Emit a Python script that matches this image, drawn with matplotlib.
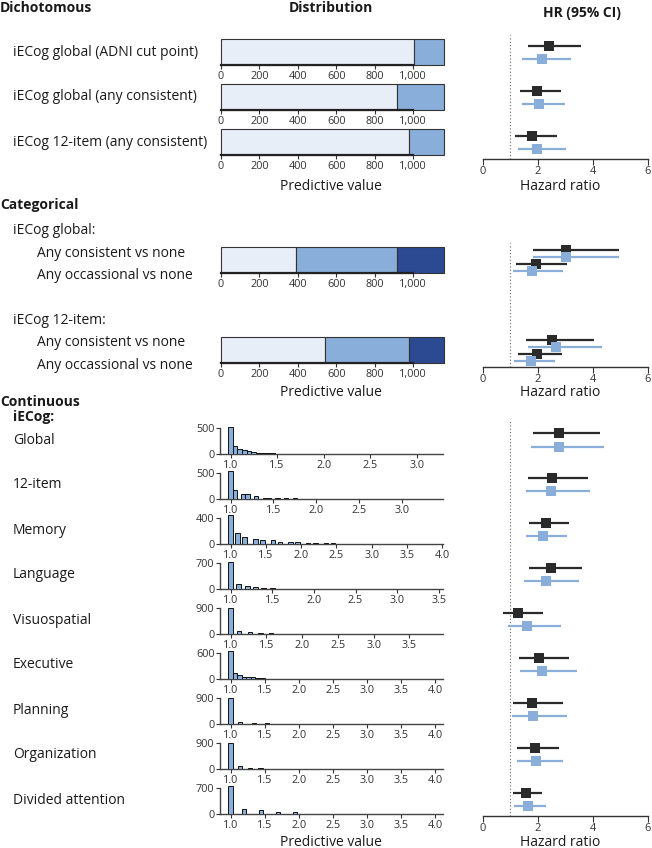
import numpy as np
import matplotlib
matplotlib.use("Agg")
import matplotlib.pyplot as plt

W, H = 652, 848
plt.rcParams['font.family'] = ['Open Sans', 'DejaVu Sans']

LIGHT = '#e8eef8'
MID = '#88aed9'
DARK = '#2c4a92'
BLACK = '#2a2a2a'
EDGE = '#333333'

# ---- data ----
# dichotomous: counts below / above cut point
dich_labels = ["iECog global (ADNI cut point)", "iECog global (any consistent)",
               "iECog 12-item (any consistent)"]
dich_no = [1005, 917, 979]
dich_yes = [155, 243, 181]

# categorical: none / any occasional / any consistent
cat_groups = ["iECog global:", "iECog 12-item:"]
cat_rows = ["Any consistent vs none", "Any occassional vs none"]
cat_none = [390, 541]
cat_occ = [527, 438]
cat_cons = [243, 181]

# hazard ratios, black (k) and blue (b) models
dich_hr_k = [2.41, 1.99, 1.78]
dich_lo_k = [1.64, 1.36, 1.17]
dich_hi_k = [3.56, 2.85, 2.69]
dich_hr_b = [2.14, 2.06, 1.99]
dich_lo_b = [1.43, 1.42, 1.30]
dich_hi_b = [3.21, 2.99, 3.03]

cat_hr_k = [3.03, 1.93, 2.53, 1.96]
cat_lo_k = [1.84, 1.20, 1.56, 1.30]
cat_hi_k = [4.95, 3.05, 4.05, 2.87]
cat_hr_b = [3.03, 1.80, 2.67, 1.76]
cat_lo_b = [1.82, 1.09, 1.64, 1.15]
cat_hi_b = [4.96, 2.91, 4.33, 2.63]

cont_labels = ["Global", "12-item", "Memory", "Language", "Visuospatial",
               "Executive", "Planning", "Organization", "Divided attention"]
cont_hr_k = [2.79, 2.51, 2.30, 2.47, 1.29, 2.05, 1.81, 1.90, 1.56]
cont_lo_k = [1.82, 1.64, 1.70, 1.68, 0.75, 1.33, 1.11, 1.25, 1.11]
cont_hi_k = [4.27, 3.83, 3.14, 3.62, 2.20, 3.14, 2.93, 2.79, 2.14]
cont_hr_b = [2.79, 2.48, 2.18, 2.31, 1.62, 2.17, 1.84, 1.94, 1.64]
cont_lo_b = [1.76, 1.57, 1.57, 1.51, 0.91, 1.36, 1.08, 1.25, 1.14]
cont_hi_b = [4.41, 3.90, 3.05, 3.50, 2.85, 3.44, 3.08, 2.93, 2.29]

# histograms of continuous scores (bin centre, count)
global_x = np.round(1.0 + 0.05 * np.arange(24), 3)
global_n = [510, 163, 100, 84, 53, 35, 28, 28, 13, 10, 8, 6, 5, 4, 4, 3, 3, 2, 2, 2, 1, 1, 1, 1]
item12_x = np.round(1.0 + 0.05 * np.arange(30), 3)
item12_n = [530, 170, 0, 105, 88, 0, 50, 0, 25, 25, 0, 15, 0, 12, 0, 10, 8, 0, 6, 0,
            4, 4, 0, 2, 0, 2, 0, 2, 0, 1]
memory_x = [1.0, 1.1, 1.2, 1.35, 1.45, 1.6, 1.7, 1.85, 1.95, 2.1, 2.2, 2.35, 2.45, 2.6, 2.7, 2.85, 3.0]
memory_n = [440, 167, 111, 83, 55, 55, 33, 28, 28, 12, 12, 10, 8, 5, 5, 3, 2]
language_x = np.round(1.0 + 0.1 * np.arange(16), 3)
language_n = [730, 140, 84, 47, 28, 18, 12, 9, 7, 5, 4, 3, 2, 2, 1, 1]
visuo_x = [1.0, 1.12, 1.27, 1.42, 1.57, 1.71, 1.86, 2.0, 2.14]
visuo_n = [905, 96, 54, 32, 21, 6, 4, 3, 2]
exec_x = np.round(1.0 + np.arange(21) / 15, 3)
exec_n = [655, 132, 94, 55, 55, 39, 25, 15, 10, 8, 6, 5, 4, 3, 3, 2, 2, 2, 1, 1, 1]
plan_x = [1.0, 1.14, 1.34, 1.54, 1.73, 1.95, 2.14, 2.34]
plan_n = [905, 80, 35, 20, 10, 8, 4, 2]
org_x = [1.0, 1.14, 1.29, 1.44, 1.61, 1.78, 1.95, 2.12]
org_n = [905, 100, 35, 25, 12, 8, 5, 3]
div_x = [1.0, 1.2, 1.45, 1.7, 1.95, 2.2, 2.45, 2.7, 2.95]
div_n = [760, 147, 120, 64, 46, 10, 6, 4, 2]

hist_x = [global_x, item12_x, memory_x, language_x, visuo_x, exec_x, plan_x, org_x, div_x]
hist_n = [global_n, item12_n, memory_n, language_n, visuo_n, exec_n, plan_n, org_n, div_n]
hist_top = [500, 500, 400, 700, 900, 600, 900, 900, 700]
hist_xmax = [3.28, 3.48, 4.01, 3.55, 3.97, 4.12, 4.12, 4.12, 4.12]
hist_w = [0.05, 0.05, 0.065, 0.06, 0.06, 0.065, 0.06, 0.06, 0.06]

fig = plt.figure(figsize=(W / 100, H / 100), dpi=100)


def px_axes(x0, y0, x1, y1):
    return fig.add_axes([x0 / W, 1 - y1 / H, (x1 - x0) / W, (y1 - y0) / H])


def label(x, y, s, **kw):
    kw.setdefault('fontsize', 10)
    kw.setdefault('color', '#1a1a1a')
    fig.text(x / W, 1 - y / H, s, va='center', **kw)


def stacked_bar(y_top, parts, colors):
    ax = px_axes(221, y_top, 443.7, y_top + 26)
    left = 0
    for val, col in zip(parts, colors):
        ax.barh(0, val, left=left, height=1, color=col, edgecolor=EDGE,
                lw=0.8, clip_on=False)
        left += val
    ax.set_xlim(0, 1160)
    ax.set_ylim(-0.5, 0.5)
    for s in ['left', 'top', 'right']:
        ax.spines[s].set_visible(False)
    ax.spines['bottom'].set_bounds(0, 1000)
    ax.spines['bottom'].set_linewidth(1.6)
    ax.spines['bottom'].set_color('#222222')
    ticks = list(range(0, 1001, 200))
    ax.set_xticks(ticks)
    ax.set_xticklabels([f"{t:,}" for t in ticks])
    ax.set_yticks([])
    ax.tick_params(axis='x', length=3, width=0.8, pad=1.5, labelsize=7.8,
                   colors='#333333')
    return ax


def forest(top, axis_y, ys, off, hk, lk, uk, hb, lb, ub):
    ax = px_axes(482.7, top, 647.7, axis_y)
    ax.set_xlim(0, 6)
    ax.set_ylim(axis_y, top)
    ax.axvline(1, ls=(0, (1, 2)), color='#666666', lw=0.8)
    for y, h, lo, hi in zip(ys, hk, lk, uk):
        ax.plot([lo, hi], [y - off, y - off], color=BLACK, lw=1.6, solid_capstyle='butt')
        ax.plot(h, y - off, 's', color=BLACK, ms=7, mew=0)
    for y, h, lo, hi in zip(ys, hb, lb, ub):
        ax.plot([lo, hi], [y + off, y + off], color=MID, lw=1.6, solid_capstyle='butt')
        ax.plot(h, y + off, 's', color=MID, ms=7, mew=0)
    for s in ['left', 'top', 'right']:
        ax.spines[s].set_visible(False)
    ax.spines['bottom'].set_linewidth(1.0)
    ax.spines['bottom'].set_color('#333333')
    ax.set_xticks([0, 2, 4, 6])
    ax.set_yticks([])
    ax.tick_params(axis='x', length=4, width=0.8, pad=1, labelsize=8,
                   colors='#333333')
    return ax


# ---- headers ----
label(0, 8, "Dichotomous", fontweight='bold')
label(331, 8, "Distribution", fontweight='bold', ha='center')
label(582, 13, "HR (95% CI)", fontweight='bold', ha='center')

# ---- dichotomous ----
for i, name in enumerate(dich_labels):
    label(13, 52 + 45 * i, name)
    stacked_bar(39 + 45 * i, [dich_no[i], dich_yes[i]], [LIGHT, MID])
label(331, 187, "Predictive value", ha='center')
forest(35, 159, 52.7 + 44.7 * np.arange(3), 6.5,
       dich_hr_k, dich_lo_k, dich_hi_k, dich_hr_b, dich_lo_b, dich_hi_b)
label(560.5, 186, "Hazard ratio", ha='center')

# ---- categorical ----
label(0, 205, "Categorical", fontweight='bold')
for g, grp in enumerate(cat_groups):
    y0 = 231 + 89.5 * g
    label(13, y0, grp)
    for k, row in enumerate(cat_rows):
        label(37, y0 + 22.3 * (k + 1), row)
    stacked_bar(247 + 90 * g, [cat_none[g], cat_occ[g], cat_cons[g]], [LIGHT, MID, DARK])
label(331, 392, "Predictive value", ha='center')
cat_y = [253 + 90 * g + 14 * k for g in range(2) for k in range(2)]
forest(243, 366.7, cat_y, 3.5,
       cat_hr_k, cat_lo_k, cat_hi_k, cat_hr_b, cat_lo_b, cat_hi_b)
label(560.5, 392, "Hazard ratio", ha='center')

# ---- continuous ----
label(0, 402, "Continuous", fontweight='bold')
label(13, 417, "iECog:", fontweight='bold')
for i, name in enumerate(cont_labels):
    label(13, 440 + 45 * i, name)
    zero = 454 + 45 * i
    ax = px_axes(220, zero - 30, 443, zero)
    xmax = hist_xmax[i]
    ppu = (443 - 230.5) / (xmax - 1)
    ax.bar(hist_x[i], hist_n[i], width=hist_w[i], color=MID, edgecolor='#111111',
           lw=0.7, zorder=3)
    ax.set_xlim(1 - 10.5 / ppu, xmax)
    ax.set_ylim(0, hist_top[i] * 30 / 26)
    for s in ['top', 'right']:
        ax.spines[s].set_visible(False)
    ax.spines['left'].set_bounds(0, hist_top[i])
    for s in ['left', 'bottom']:
        ax.spines[s].set_linewidth(1.0)
        ax.spines[s].set_color('#444444')
    xt = np.arange(1.0, xmax + 1e-9, 0.5)
    ax.set_xticks(xt)
    ax.set_xticklabels([f"{t:.1f}" for t in xt])
    ax.set_yticks([0, hist_top[i]])
    ax.tick_params(length=3, width=0.8, pad=1, labelsize=7.8, colors='#333333')
label(331, 842, "Predictive value", ha='center')
forest(421, 816, 439.7 + 44.95 * np.arange(9), 6.8,
       cont_hr_k, cont_lo_k, cont_hi_k, cont_hr_b, cont_lo_b, cont_hi_b)
label(560.5, 842, "Hazard ratio", ha='center')

fig.savefig("out.png", dpi=100)
